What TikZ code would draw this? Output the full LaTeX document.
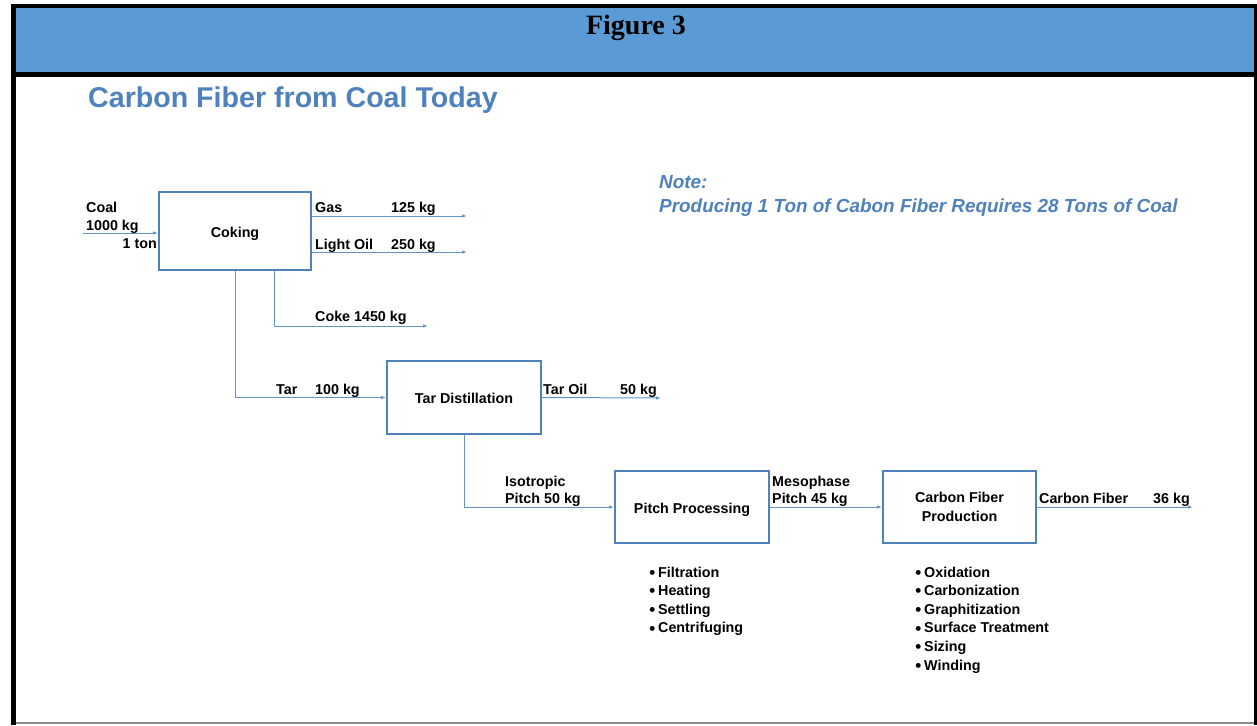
\documentclass[tikz,border=0pt]{standalone}
\usepackage{fontspec}
\setmainfont{Liberation Sans}
\newfontfamily\figserif{Liberation Serif}
\usetikzlibrary{arrows.meta}
\definecolor{band}{HTML}{5B9BD5}
\definecolor{boxc}{HTML}{4F81BD}
\definecolor{flow}{HTML}{6392CE}
\definecolor{titlec}{HTML}{4F81BD}
\newcommand{\blt}{\llap{\raisebox{-1.2pt}{\fontsize{17}{16}\selectfont\textbullet}\hspace{3pt}}}
\begin{document}
\begin{tikzpicture}[x=1pt,y=-1pt,
  lbl/.style={font=\bfseries\fontsize{14.3}{16}\selectfont, inner sep=0pt, anchor=base west},
  lblr/.style={lbl, anchor=base east},
  stepbox/.style={draw=boxc, line width=1.8pt, inner sep=0pt, align=center,
    font=\bfseries\fontsize{14.3}{19}\selectfont},
  oneline/.style={text height=12.2pt, text depth=0pt},
  flowline/.style={draw=flow, line width=1pt, -{Latex[length=5pt,width=3.5pt]}},
  heading/.style={inner sep=0pt, anchor=base west, text=titlec}
]
\useasboundingbox (0,0) rectangle (1257,725);
% frame
\fill[band] (14,6) rectangle (1255,74);
\draw[black!45, line width=1.5pt] (16,723) -- (1254,723);
\draw[black, line width=4pt] (11,6) -- (1257,6);
\draw[black, line width=5pt] (11,74.5) -- (1257,74.5);
\draw[black, line width=5pt] (13.5,4) -- (13.5,725);
\draw[black, line width=3pt] (1255.5,4) -- (1255.5,725);
\node (fig) [inner sep=0pt, anchor=base] at (636,34.5) {\figserif\bfseries\fontsize{28}{30}\selectfont Figure 3};
% headings
\node (title) [heading, font=\bfseries\fontsize{28.6}{30}\selectfont] at (88,107) {Carbon Fiber from Coal Today};
\node (note1) [heading, font=\bfseries\itshape\fontsize{18.9}{20}\selectfont] at (659,188) {Note:};
\node (note2) [heading, font=\bfseries\itshape\fontsize{18.9}{20}\selectfont] at (659,212) {Producing 1 Ton of Cabon Fiber Requires 28 Tons of Coal};
% boxes
\node (coking) [stepbox, oneline, minimum width=152pt, minimum height=78pt] at (235,231) {Coking};
\node (tardist) [stepbox, oneline, minimum width=154pt, minimum height=73pt] at (464,397.5) {Tar Distillation};
\node (pitch) [stepbox, oneline, minimum width=154pt, minimum height=72pt] at (692,507) {Pitch Processing};
\node (cfp) [stepbox, minimum width=153pt, minimum height=72pt] at (959.5,507) {Carbon Fiber\\Production};
% free ends
\coordinate (coalin) at (83,233);
\coordinate (gasend) at (467,216);
\coordinate (loend) at (467,252);
\coordinate (cokebend) at (274,326);
\coordinate (cokeend) at (428,326);
\coordinate (taroilend) at (661,398);
\coordinate (cfend) at (1193,507);
% connectors
\draw[flowline] (coalin) -- (coking.west |- coalin);
\draw[flowline] (coking.east |- gasend) -- (gasend);
\draw[flowline] (coking.east |- loend) -- (loend);
\draw[flowline] (cokebend |- coking.south) -- (cokebend) -- (cokeend);
\draw[flowline] (coking.south) |- (tardist.west);
\draw[flowline] (tardist.east) -- (taroilend);
\draw[flowline] (tardist.south) |- (pitch.west);
\draw[flowline] (pitch.east) -- (cfp.west);
\draw[flowline] (cfp.east) -- (cfend);
% labels
\node (lcoal) [lbl] at (86,212) {Coal};
\node (lcoalkg) [lbl] at (86,230) {1000 kg};
\node (lton) [lblr] at (157,248) {1 ton};
\node (lgas) [lbl] at (315,212) {Gas};
\node (lgaskg) [lbl] at (391,212) {125 kg};
\node (llo) [lbl] at (315,249) {Light Oil};
\node (llokg) [lbl] at (391,249) {250 kg};
\node (lcoke) [lbl] at (315,321) {Coke 1450 kg};
\node (ltar) [lbl] at (276,394) {Tar};
\node (ltarkg) [lbl] at (315,394) {100 kg};
\node (ltaroil) [lbl] at (543,394) {Tar Oil};
\node (ltaroilkg) [lbl] at (620,394) {50 kg};
\node (liso1) [lbl] at (505,486) {Isotropic};
\node (liso2) [lbl] at (505,503) {Pitch 50 kg};
\node (lmeso1) [lbl] at (772,486) {Mesophase};
\node (lmeso2) [lbl] at (772,503) {Pitch 45 kg};
\node (lcf) [lbl] at (1039,503) {Carbon Fiber};
\node (lcfkg) [lbl] at (1153,503) {36 kg};
% bullet lists
\foreach \t [count=\i] in {Filtration,Heating,Settling,Centrifuging}
  \node (pb\i) [lbl] at (658,{577+18.6*(\i-1)}) {\blt\t};
\foreach \t [count=\i] in {Oxidation,Carbonization,Graphitization,Surface Treatment,Sizing,Winding}
  \node (cb\i) [lbl] at (924,{577+18.6*(\i-1)}) {\blt\t};
\end{tikzpicture}
\end{document}
